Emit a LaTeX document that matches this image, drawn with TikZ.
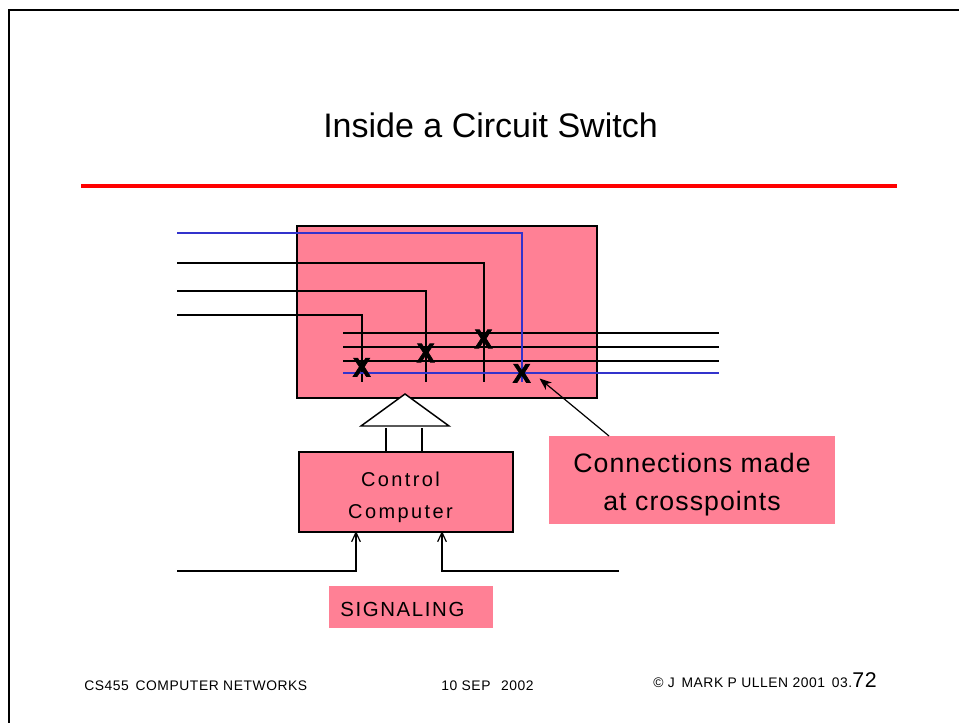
\documentclass[tikz,border=0pt]{standalone}
\usepackage{fontspec}
\setmainfont{Liberation Sans}
\usetikzlibrary{arrows.meta, calc}
\definecolor{panelPink}{RGB}{255,128,149}
\definecolor{lineBlue}{RGB}{51,51,204}
\tikzset{
  switchBox/.style={draw=black, fill=panelPink, line width=1.2pt, inner sep=0pt},
  labelBox/.style={fill=panelPink, inner sep=0pt},
  wireLine/.style={draw=black, line width=1.2pt},
  blueLine/.style={draw=lineBlue, line width=1.1pt},
  crossMark/.style={font=\bfseries\fontsize{20}{20}\selectfont\addfontfeature{FakeBold=2.5}, inner sep=0pt},
  footText/.style={font=\fontsize{10.4}{11}\selectfont\addfontfeature{LetterSpace=4}, anchor=base west, inner sep=0pt},
  sigArrow/.style={-{Straight Barb[length=7pt,width=6.5pt,line width=0.9pt]}, line width=1.2pt}
}
\begin{document}
\begin{tikzpicture}[x=0.75pt, y=-0.75pt]
  \useasboundingbox (0,0) rectangle (959,723);

  % Frame
  \draw[line width=1.5pt] (9,723) -- (9,10) -- (959,10);

  % Title
  \node[font=\fontsize{25.5}{28}\selectfont, inner sep=0pt] (title) at (490.5,125) {Inside a Circuit Switch};
  \draw[red, line width=3pt] (81,186) -- (897,186);

  % Switch
  \node[switchBox, minimum width=225pt, minimum height=129pt] (switch) at (447,312) {};

  % Control lines (triangle)
  \coordinate (triTop) at (405,394);
  \coordinate (triL) at (361,426);
  \coordinate (triR) at (449,426);
  \draw[line width=1.1pt, fill=white] (triTop) -- (triL) -- (triR) -- cycle;

  \node[switchBox, minimum width=160.5pt, minimum height=60pt] (control) at (406,492) {};
  \node[font=\fontsize{15}{24}\selectfont\addfontfeature{LetterSpace=12}, align=center, inner sep=0pt] (controlText) at (400.5,497.5)
        {Control\\Computer};
  \draw[wireLine] (386,428) -- (386,452);
  \draw[wireLine] (422,428) -- (422,452);

  % Incoming lines
  \foreach \y/\x/\name in {263/484/b, 291/426/c, 315/362/d} {
    \coordinate (in\name) at (177,\y);
    \coordinate (cor\name) at (\x,\y);
    \coordinate (end\name) at (\x,382);
    \draw[wireLine] (in\name) -- (cor\name) -- (end\name);
  }
  % Outgoing lines
  \foreach \y/\name in {333/a, 347/b, 361/c} {
    \coordinate (outL\name) at (343,\y);
    \coordinate (outR\name) at (719,\y);
    \draw[wireLine] (outL\name) -- (outR\name);
  }
  % Blue path
  \coordinate (inBlue) at (177,233);
  \coordinate (corBlue) at (522,233);
  \coordinate (endBlue) at (522,382);
  \coordinate (outLBlue) at (343,373);
  \coordinate (outRBlue) at (719,373);
  \draw[blueLine] (inBlue) -- (corBlue) -- (endBlue);
  \draw[blueLine] (outLBlue) -- (outRBlue);

  % Crosspoints
  \foreach \x/\y/\name in {361.7/367.3/p, 425.7/353/q, 483.5/339/r, 521.7/373.3/s} {
    \node[crossMark] (\name) at (\x,\y) {X};
  }

  % Callout
  \node[labelBox, minimum width=214.5pt, minimum height=66pt] (callout) at (692,480) {};
  \node[font=\fontsize{20}{28.5}\selectfont\addfontfeature{LetterSpace=4}, align=center, inner sep=0pt] (calloutText) at (692,485)
        {Connections made\\at crosspoints};
  \coordinate (calloutTip) at (539.5,378.5);
  \coordinate (calloutFoot) at (609,436);
  \draw[-{Stealth[length=9pt,width=7pt,inset=2.5pt]}, line width=0.9pt] (calloutFoot) -- (calloutTip);

  % Signaling
  \coordinate (sigL) at (177,571);
  \coordinate (sigLcor) at (356,571);
  \coordinate (sigLtip) at (356,531);
  \coordinate (sigR) at (619,571);
  \coordinate (sigRcor) at (442,571);
  \coordinate (sigRtip) at (442,531);
  \draw[sigArrow] (sigL) -- (sigLcor) -- (sigLtip);
  \draw[sigArrow] (sigR) -- (sigRcor) -- (sigRtip);
  \node[labelBox, minimum width=123pt, minimum height=31.5pt] (sigBox) at (411,607) {};
  \node[font=\fontsize{15.3}{16}\selectfont\addfontfeature{LetterSpace=8}, anchor=base west, inner sep=0pt] (sigText) at (340,616)
        {SIGNALING};

  % Footer
  \node[footText] (course) at (84,690) {CS455\, COMPUTER NETWORKS};
  \node[footText] (date) at (441,690) {10 SEP\;\, 2002};
  \node[footText] (copy) at (653,687) {© J\, MARK P ULLEN 2001\, 03.{\fontsize{16}{16}\selectfont 72}};
\end{tikzpicture}
\end{document}
